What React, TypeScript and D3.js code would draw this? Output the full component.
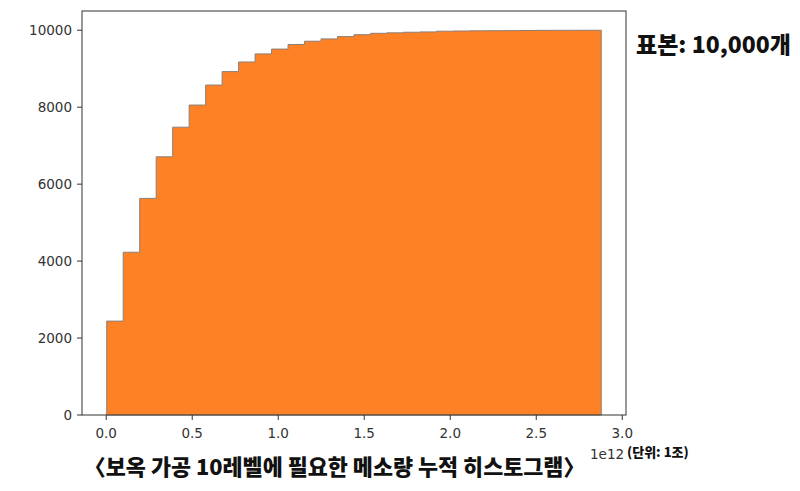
import React from "react";
import * as d3 from "d3";

const W = 800;
const H = 491;

// cumulative counts per bin (30 bins)
const cumCounts = [
  2440, 4230, 5630, 6710, 7480, 8055, 8575, 8925, 9175, 9385,
  9510, 9630, 9715, 9775, 9835, 9885, 9920, 9932, 9948, 9957,
  9975, 9980, 9985, 9988, 9990, 9993, 9997, 9998, 9999, 10000,
];
const dataMin = 0.003e12;
const dataMax = 2.878e12;
const xTicks = [0, 0.5e12, 1.0e12, 1.5e12, 2.0e12, 2.5e12, 3.0e12];
const yTicks = [0, 2000, 4000, 6000, 8000, 10000];
const title = "〈보옥 가공 10레벨에 필요한 메소량 누적 히스토그램〉";
const sampleLabel = "표본: 10,000개";
const offsetLabel = "1e12";
const unitLabel = "(단위: 1조)";

const margin = { left: 82, right: 174, top: 11, bottom: 76 };

export default function App() {
  const x0 = margin.left;
  const x1 = W - margin.right;
  const y0 = H - margin.bottom;
  const y1 = margin.top;
  const span = dataMax - dataMin;
  const x = d3
    .scaleLinear()
    .domain([dataMin - span * 0.05, dataMax + span * 0.05])
    .range([x0, x1]);
  const y = d3.scaleLinear().domain([0, 10500]).range([y0, y1]);
  const binW = span / cumCounts.length;

  const pts: [number, number][] = [[dataMin, 0]];
  cumCounts.forEach((c, i) => {
    pts.push([dataMin + i * binW, c]);
    pts.push([dataMin + (i + 1) * binW, c]);
  });
  pts.push([dataMax, 0]);
  const line = d3
    .line<[number, number]>()
    .x((d) => x(d[0]))
    .y((d) => y(d[1]));
  const path = line(pts) + "Z";

  const tickFont = "DejaVu Sans";
  const korFont = "'Noto Sans CJK KR'";
  return (
    <svg width={W} height={H} style={{ display: "block", position: "absolute", left: 0, top: 0 }}>
      <rect x={0} y={0} width={W} height={H} fill="#fff" />
      <path d={path} fill="#fe8126" stroke="#8c7f76" strokeWidth={1} />
      <rect x={x0} y={y1} width={x1 - x0} height={y0 - y1} fill="none" stroke="#333" strokeWidth={1} />
      {yTicks.map((t) => (
        <g key={"y" + t}>
          <line x1={x0 - 5} x2={x0} y1={y(t)} y2={y(t)} stroke="#333" />
          <text x={x0 - 10} y={y(t)} dy="0.35em" textAnchor="end" fontFamily={tickFont} fontSize={13.5} fill="#333">
            {t}
          </text>
        </g>
      ))}
      {xTicks.map((t) => (
        <g key={"x" + t}>
          <line x1={x(t)} x2={x(t)} y1={y0} y2={y0 + 5} stroke="#333" />
          <text x={x(t)} y={y0 + 23} textAnchor="middle" fontFamily={tickFont} fontSize={13.5} fill="#333">
            {(t / 1e12).toFixed(1)}
          </text>
        </g>
      ))}
      <text x={590} y={459} fontFamily={tickFont} fontSize={13.5} fill="#333">
        {offsetLabel}
      </text>
      <text x={627} y={457} fontFamily={korFont} fontWeight={900} fontSize={13} fill="#111">
        {unitLabel}
      </text>
      <text x={636} y={53} fontFamily={korFont} fontWeight={900} fontSize={23} fill="#111">
        {sampleLabel}
      </text>
      <text x={84} y={475} fontFamily={korFont} fontWeight={900} fontSize={21.8} fill="#111">
        {title}
      </text>
    </svg>
  );
}
